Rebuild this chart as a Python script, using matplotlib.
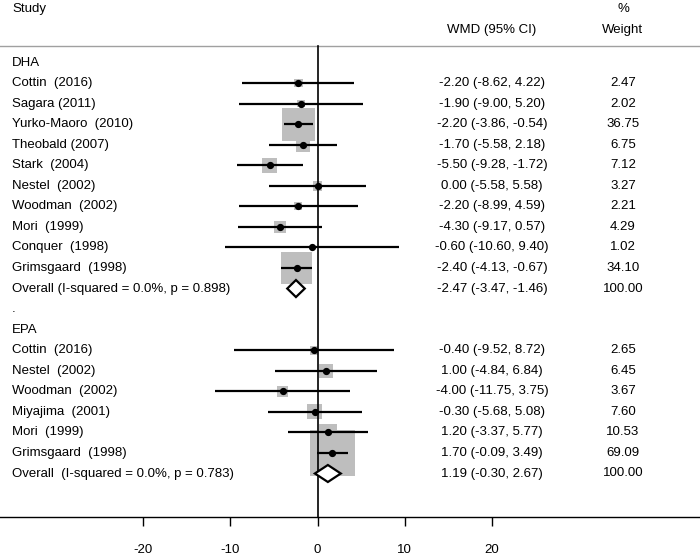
import numpy as np
import matplotlib
matplotlib.use("Agg")
import matplotlib.pyplot as plt
from matplotlib.patches import Rectangle, Polygon
import matplotlib.transforms as mtransforms

plt.rcParams['font.family'] = ['Liberation Sans', 'DejaVu Sans']

# ---------------- data ----------------
dha_studies = ["Cottin  (2016)", "Sagara (2011)", "Yurko-Maoro  (2010)", "Theobald (2007)",
               "Stark  (2004)", "Nestel  (2002)", "Woodman  (2002)", "Mori  (1999)",
               "Conquer  (1998)", "Grimsgaard  (1998)"]
dha_est = [-2.20, -1.90, -2.20, -1.70, -5.50, 0.00, -2.20, -4.30, -0.60, -2.40]
dha_lo = [-8.62, -9.00, -3.86, -5.58, -9.28, -5.58, -8.99, -9.17, -10.60, -4.13]
dha_hi = [4.22, 5.20, -0.54, 2.18, -1.72, 5.58, 4.59, 0.57, 9.40, -0.67]
dha_w = [2.47, 2.02, 36.75, 6.75, 7.12, 3.27, 2.21, 4.29, 1.02, 34.10]
dha_overall_label = "Overall (I-squared = 0.0%, p = 0.898)"
dha_overall = (-2.47, -3.47, -1.46)

epa_studies = ["Cottin  (2016)", "Nestel  (2002)", "Woodman  (2002)", "Miyajima  (2001)",
               "Mori  (1999)", "Grimsgaard  (1998)"]
epa_est = [-0.40, 1.00, -4.00, -0.30, 1.20, 1.70]
epa_lo = [-9.52, -4.84, -11.75, -5.68, -3.37, -0.09]
epa_hi = [8.72, 6.84, 3.75, 5.08, 5.77, 3.49]
epa_w = [2.65, 6.45, 3.67, 7.60, 10.53, 69.09]
epa_overall_label = "Overall  (I-squared = 0.0%, p = 0.783)"
epa_overall = (1.19, -0.30, 2.67)

xticks = [-20, -10, 0, 10, 20]

# ---------------- layout ----------------
W, H = 700, 560
X0 = 317.5      # pixel of x = 0
PXU = 8.72      # pixels per unit
fig = plt.figure(figsize=(7, 5.6), dpi=100)
ax = fig.add_axes([0, 0, 1, 1])
ax.set_xlim(-X0 / PXU, (W - X0) / PXU)
ax.set_ylim(H, 0)

trans_px = mtransforms.blended_transform_factory(ax.transAxes, ax.transData)
def tx(px):
    return px / W

FS = 9.5
ROW0, DY = 62.5, 20.55
COL_LABEL, COL_CI, COL_W = 12, 492, 623
BOX_K = 5.44    # box side (px) per sqrt(weight)
gray = '#bebebe'

# headers
ax.text(tx(COL_LABEL), 9, "Study", transform=trans_px, fontsize=FS, va='center', ha='left')
ax.text(tx(COL_W), 9, "%", transform=trans_px, fontsize=FS, va='center', ha='center')
ax.text(tx(COL_CI), 30, "WMD (95% CI)", transform=trans_px, fontsize=FS, va='center', ha='center')
ax.text(tx(COL_W), 30, "Weight", transform=trans_px, fontsize=FS, va='center', ha='center')
ax.plot([0, 1], [46, 46], transform=trans_px, color='#a0a0a0', lw=1.0, clip_on=False)

# zero line
ax.plot([0, 0], [46, 517], color='black', lw=1.2, zorder=4)

def study_row(i, label, est, lo, hi, w):
    y = ROW0 + DY * i
    side = BOX_K * np.sqrt(w)
    ax.add_patch(Rectangle((est - side / 2 / PXU, y - side / 2), side / PXU, side,
                           facecolor=gray, edgecolor='none', zorder=2))
    ax.plot([lo, hi], [y, y], color='black', lw=1.6, zorder=3, solid_capstyle='butt')
    ax.plot([est], [y], 'o', color='black', ms=4.2, zorder=5)
    ax.text(tx(COL_LABEL), y, label, transform=trans_px, fontsize=FS, va='center', ha='left')
    ax.text(tx(COL_CI), y, f"{est:.2f} ({lo:.2f}, {hi:.2f})", transform=trans_px,
            fontsize=FS, va='center', ha='center')
    ax.text(tx(COL_W), y, f"{w:.2f}", transform=trans_px, fontsize=FS, va='center', ha='center')

def overall_row(i, label, ov):
    y = ROW0 + DY * i
    est, lo, hi = ov
    hh = 8.5
    ax.add_patch(Polygon([(lo, y), (est, y - hh), (hi, y), (est, y + hh)], closed=True,
                         facecolor='white', edgecolor='black', lw=1.6, zorder=6))
    ax.text(tx(COL_LABEL), y, label, transform=trans_px, fontsize=FS, va='center', ha='left')
    ax.text(tx(COL_CI), y, f"{est:.2f} ({lo:.2f}, {hi:.2f})", transform=trans_px,
            fontsize=FS, va='center', ha='center')
    ax.text(tx(COL_W), y, "100.00", transform=trans_px, fontsize=FS, va='center', ha='center')

row = 0
ax.text(tx(COL_LABEL), ROW0 + DY * row, "DHA", transform=trans_px, fontsize=FS, va='center', ha='left')
row += 1
for k in range(len(dha_studies)):
    study_row(row, dha_studies[k], dha_est[k], dha_lo[k], dha_hi[k], dha_w[k])
    row += 1
overall_row(row, dha_overall_label, dha_overall)
row += 1
ax.text(tx(COL_LABEL), ROW0 + DY * row, ".", transform=trans_px, fontsize=FS, va='center', ha='left')
row += 1
ax.text(tx(COL_LABEL), ROW0 + DY * row, "EPA", transform=trans_px, fontsize=FS, va='center', ha='left')
row += 1
for k in range(len(epa_studies)):
    study_row(row, epa_studies[k], epa_est[k], epa_lo[k], epa_hi[k], epa_w[k])
    row += 1
overall_row(row, epa_overall_label, epa_overall)

# x axis
for s in ['top', 'left', 'right']:
    ax.spines[s].set_visible(False)
ax.spines['bottom'].set_position(('data', 517))
ax.spines['bottom'].set_linewidth(1.0)
ax.set_xticks(xticks)
ax.set_xticklabels([str(t) for t in xticks])
ax.tick_params(axis='x', direction='out', length=6.5, width=1.0, pad=13, labelsize=FS)
ax.set_yticks([])
ax.patch.set_alpha(0)

fig.savefig("out.png", dpi=100, facecolor='white')
